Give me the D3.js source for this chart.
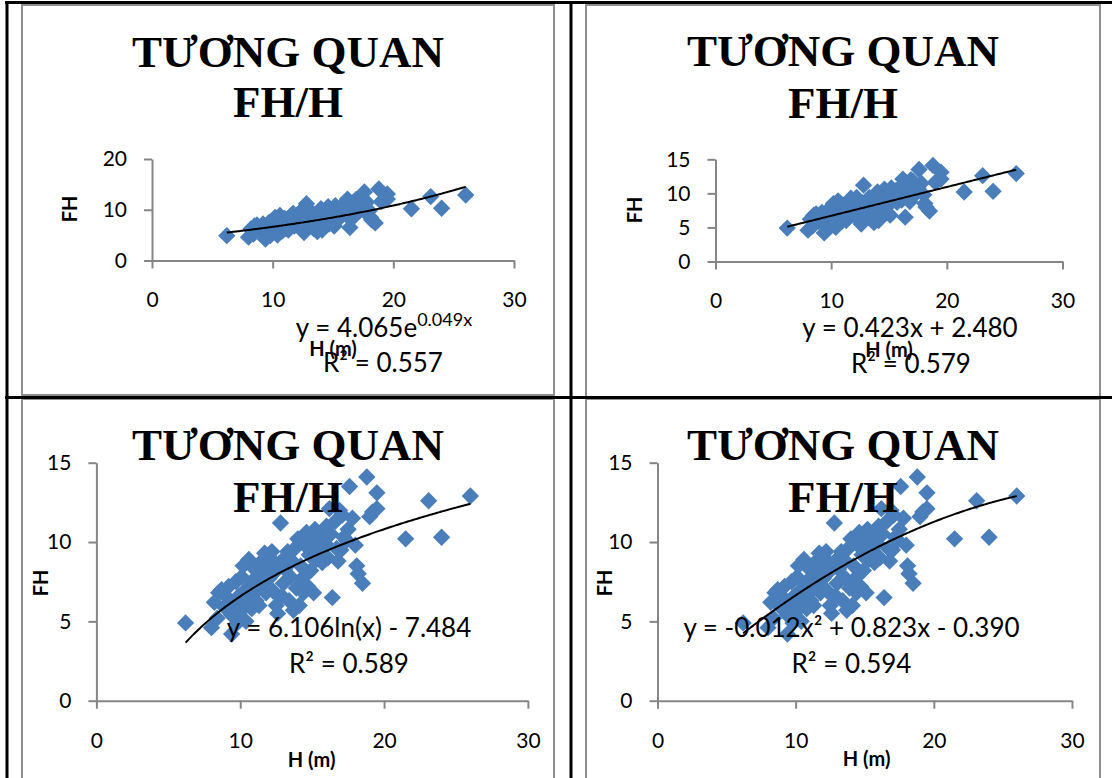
<!DOCTYPE html>
<html>
<head>
<meta charset="utf-8">
<script src="https://cdn.jsdelivr.net/npm/d3@7"></script>
<style>
  body { margin: 0; background: #fff; }
  svg { display: block; }
</style>
</head>
<body>
<script>
// tree height H (m) and FH (same data in all 4 panels)
var hValues = [6.2, 8.0, 9.4, 8.2, 8.5, 8.7, 8.4, 8.9, 9.1, 9.2,
               9.4, 9.5, 9.7, 9.8, 9.9, 10.0, 10.1, 10.2, 10.3, 10.4,
               10.5, 10.6, 10.7, 10.8, 10.9, 11.0, 11.1, 11.2, 11.3, 11.4,
               11.5, 11.6, 11.7, 11.8, 11.9, 12.0, 12.1, 12.2, 12.3, 12.4,
               12.5, 12.6, 12.7, 12.8, 12.9, 13.0, 13.1, 13.2, 13.3, 13.4,
               13.5, 13.6, 13.7, 13.8, 13.9, 14.0, 14.1, 14.2, 14.3, 14.4,
               14.5, 14.6, 14.7, 14.8, 14.9, 15.0, 15.1, 15.2, 15.3, 15.5,
               15.6, 15.7, 15.9, 16.0, 16.1, 16.2, 16.3, 16.4, 16.6, 16.7,
               16.8, 16.9, 17.0, 17.1, 17.2, 17.4, 17.5, 17.6, 17.8, 18.0,
               18.1, 18.2, 18.5, 18.8, 19.0, 19.5, 19.5, 19.2, 21.5, 23.1,
               24.0, 26.0];
var fhValues = [4.9, 4.6, 4.2, 6.2, 6.8, 7.0, 5.2, 5.9, 6.5, 7.2,
                5.4, 6.0, 7.5, 4.9, 6.6, 5.6, 7.8, 8.5, 6.2, 5.0,
                7.1, 8.9, 6.7, 5.8, 7.6, 8.3, 6.3, 7.0, 6.0, 8.0,
                8.8, 7.4, 9.3, 6.8, 8.5, 7.7, 9.0, 9.4, 6.9, 8.1,
                6.0, 5.5, 8.6, 11.2, 6.6, 7.4, 8.3, 9.1, 9.4, 6.3,
                7.8, 8.8, 5.7, 9.6, 7.1, 10.2, 6.0, 8.5, 7.7, 6.8,
                9.8, 10.6, 7.2, 9.2, 8.2, 10.0, 6.8, 10.8, 8.9, 9.5,
                10.4, 8.7, 9.9, 11.0, 9.0, 12.1, 10.5, 6.5, 11.3, 9.6,
                8.8, 12.0, 9.5, 11.7, 10.3, 10.1, 10.8, 13.5, 11.5, 9.8,
                8.5, 8.0, 7.4, 14.1, 11.6, 13.1, 12.1, 11.9, 10.2, 12.6,
                10.3, 12.9];

var xTicks = [0, 10, 20, 30];
var yTicksFirst = [0, 10, 20];
var yTicksOther = [0, 5, 10, 15];
var titleLines = ["TƯƠNG QUAN", "FH/H"];
var xTitle = "H (m)";
var yTitle = "FH";

// trendline coefficients as printed on the chart
var expCoef = [4.065, 0.049];
var linCoef = [0.423, 2.480];
var logCoef = [6.106, -7.484];
var polyCoef = [-0.012, 0.823, -0.390];
var r2Labels = ["R² = 0.557", "R² = 0.579", "R² = 0.589", "R² = 0.594"];

var points = hValues.map(function(h, i) { return { h: h, fh: fhValues[i] }; });

var W = 1112, H = 778;
var svg = d3.select("body").append("svg")
    .attr("width", W)
    .attr("height", H);

var panels = [
  { box: [22, 5, 532, 390], xr: [152, 514], yr: [260.5, 159], yMax: 20, yTicks: yTicksFirst,
    cx: 288, t1: 67, t2: 117, fh: [70, 209], hm: [333, 356], eq: [384, 337], r2: [383, 372],
    f: function(x) { return expCoef[0] * Math.exp(expCoef[1] * x); },
    eq: [384, 337], eqParts: ["y = " + expCoef[0].toFixed(3) + "e", expCoef[1].toFixed(3) + "x"] },
  { box: [586, 5, 514, 392], xr: [715.5, 1062.5], yr: [261.5, 159.3], yMax: 15, yTicks: yTicksOther,
    cx: 843, t1: 66, t2: 118, fh: [635, 210], hm: [889, 357], eq: [910, 337], r2: [911, 373],
    f: function(x) { return linCoef[0] * x + linCoef[1]; },
    eqParts: ["y = " + linCoef[0].toFixed(3) + "x + " + linCoef[1].toFixed(3)] },
  { box: [22, 399, 532, 400], xr: [96.4, 527.9], yr: [700.7, 462.7], yMax: 15, yTicks: yTicksOther,
    cx: 288, t1: 460, t2: 511.5, fh: [41, 583], hm: [311.6, 767], eq: [349, 637], r2: [349, 673],
    f: function(x) { return logCoef[0] * Math.log(x) + logCoef[1]; },
    eqParts: ["y = " + logCoef[0].toFixed(3) + "ln(x) - " + Math.abs(logCoef[1]).toFixed(3)] },
  { box: [586, 399, 514, 400], xr: [657.5, 1072], yr: [700.7, 462.7], yMax: 15, yTicks: yTicksOther,
    cx: 843, t1: 460, t2: 511.5, fh: [605, 583], hm: [866.6, 766], eq: [851.5, 637], r2: [851.5, 673],
    f: function(x) { return polyCoef[0] * x * x + polyCoef[1] * x + polyCoef[2]; },
    eqParts: ["y = " + polyCoef[0].toFixed(3) + "x² + " + polyCoef[1].toFixed(3) + "x - " + Math.abs(polyCoef[2]).toFixed(3)] }
];

var hMin = d3.min(hValues), hMax = d3.max(hValues);
var diamond = d3.symbol().type(d3.symbolSquare).size(150);

panels.forEach(function(p, k) {
  var g = svg.append("g");

  g.append("rect")
      .attr("x", p.box[0]).attr("y", p.box[1])
      .attr("width", p.box[2]).attr("height", p.box[3])
      .attr("fill", "#fff")
      .attr("stroke", "#8e8e8e")
      .attr("stroke-width", 2);

  var x = d3.scaleLinear().domain([0, 30]).range(p.xr);
  var y = d3.scaleLinear().domain([0, p.yMax]).range(p.yr);

  var xAxis = d3.axisBottom(x).tickValues(xTicks).tickSize(8).tickSizeOuter(0).tickPadding(24);
  var yAxis = d3.axisLeft(y).tickValues(p.yTicks).tickSize(8).tickSizeOuter(0).tickPadding(17);

  var gx = g.append("g").attr("transform", "translate(0," + p.yr[0] + ")").call(xAxis);
  var gy = g.append("g").attr("transform", "translate(" + p.xr[0] + ",0)").call(yAxis);
  [gx, gy].forEach(function(a) {
    a.select(".domain").attr("stroke", "#868686").attr("stroke-width", 2);
    a.selectAll(".tick line").attr("stroke", "#868686").attr("stroke-width", 2);
    a.selectAll(".tick text")
        .attr("fill", "#000")
        .style("font-family", "Lato, 'Open Sans', sans-serif")
        .style("font-size", "21px");
  });

  g.append("g").selectAll("path")
      .data(points)
      .enter().append("path")
      .attr("d", diamond)
      .attr("transform", function(d) {
        return "translate(" + x(d.h) + "," + y(d.fh) + ") rotate(45)";
      })
      .attr("fill", "#4a7ebb");

  var curve = d3.range(hMin, hMax + 0.001, 0.1).map(function(v) { return [v, p.f(v)]; });
  g.append("path")
      .datum(curve)
      .attr("fill", "none")
      .attr("stroke", "#000")
      .attr("stroke-width", 2)
      .attr("d", d3.line().x(function(d) { return x(d[0]); }).y(function(d) { return y(d[1]); }));

  // chart title
  g.selectAll(".title")
      .data(titleLines)
      .enter().append("text")
      .attr("x", p.cx)
      .attr("y", function(d, i) { return i === 0 ? p.t1 : p.t2; })
      .attr("text-anchor", "middle")
      .style("font-family", "'Liberation Serif', 'Times New Roman', serif")
      .style("font-weight", "bold")
      .style("font-size", "45px")
      .text(function(d) { return d; });

  // axis titles
  g.append("text")
      .attr("transform", "translate(" + p.fh[0] + "," + p.fh[1] + ") rotate(-90)")
      .attr("text-anchor", "middle")
      .attr("dy", "0.35em")
      .style("font-family", "Lato, sans-serif")
      .style("font-weight", "bold")
      .style("font-size", "20px")
      .text(yTitle);

  g.append("text")
      .attr("x", p.hm[0]).attr("y", p.hm[1])
      .attr("text-anchor", "middle")
      .style("font-family", "Lato, sans-serif")
      .style("font-weight", "bold")
      .style("font-size", "20px")
      .text(xTitle);

  // trendline label
  var eq = g.append("text")
      .attr("x", p.eq[0]).attr("y", p.eq[1])
      .attr("text-anchor", "middle")
      .style("font-family", "Lato, sans-serif")
      .style("font-size", "26px");
  eq.append("tspan").text(p.eqParts[0]);
  if (p.eqParts.length > 1) {
    eq.append("tspan").attr("dy", -11).style("font-size", "18px").text(p.eqParts[1]);
  }

  g.append("text")
      .attr("x", p.r2[0]).attr("y", p.r2[1])
      .attr("text-anchor", "middle")
      .style("font-family", "Lato, sans-serif")
      .style("font-size", "26px")
      .text(r2Labels[k]);
});

// table grid lines
var grid = svg.append("g").attr("stroke", "#000").attr("stroke-width", 3);
grid.append("line").attr("x1", 7).attr("x2", 7).attr("y1", 1).attr("y2", H);
grid.append("line").attr("x1", 571).attr("x2", 571).attr("y1", 1).attr("y2", H);
grid.append("line").attr("x1", 5).attr("x2", 1112).attr("y1", 2.5).attr("y2", 2.5);
grid.append("line").attr("x1", 5).attr("x2", 1112).attr("y1", 397.5).attr("y2", 397.5);
</script>
</body>
</html>
